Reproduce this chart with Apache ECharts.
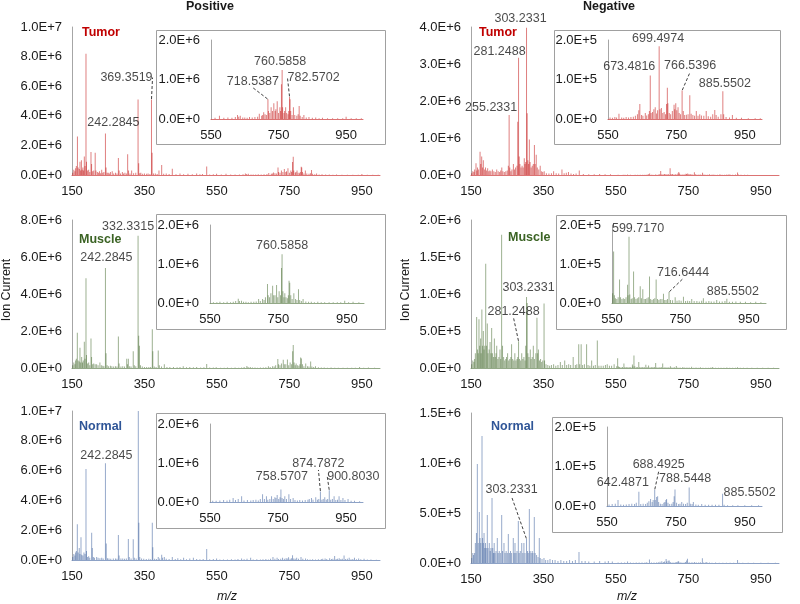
<!DOCTYPE html>
<html>
<head>
<meta charset="utf-8">
<script src="https://cdn.jsdelivr.net/npm/echarts@6/dist/echarts.min.js"></script>
<style>
  html, body { margin: 0; padding: 0; background: #fff; }
  #main { width: 800px; height: 604px; }
</style>
</head>
<body>
<div id="main"></div>
<script>
// peaks: [m/z, intensity]
const posTumor = [
  [152,0.15e6],[155,0.35e6],[158,0.25e6],[160,0.45e6],[162,0.6e6],[165,2.6e6],[167,0.5e6],[170,0.4e6],[172,0.9e6],[174,0.3e6],
  [176,1.0e6],[178,0.35e6],[180,0.5e6],[182,0.3e6],[184,1.25e6],[186,0.6e6],[188.6,8.2e6],[190,0.9e6],[193,0.3e6],[196,0.35e6],
  [199,0.2e6],[202.4,1.55e6],[204,0.75e6],[207,0.25e6],[210,0.3e6],[214,1.5e6],[216,0.3e6],[220,0.2e6],[223,0.15e6],[226,0.25e6],
  [229,0.12e6],[232,0.35e6],[235,0.15e6],[238,0.2e6],[242.2845,2.8e6],[244,0.5e6],[247,0.15e6],[250,0.15e6],[253,0.1e6],[256,0.2e6],
  [261,0.25e6],[265,0.1e6],[270,0.15e6],[274,0.1e6],[278,1.15e6],[280,0.3e6],[284,0.1e6],[289,0.2e6],[292,0.1e6],[296,0.15e6],
  [300,0.1e6],[303.6,1.4e6],[306,0.3e6],[310,0.1e6],[314.6,0.3e6],[320,0.12e6],[326,0.15e6],[332.3,5.1e6],[334,0.8e6],[337,0.12e6],
  [340,0.15e6],[345,0.08e6],[350,0.1e6],[356,0.08e6],[360,0.1e6],[365,0.07e6],[369.3519,5.1e6],[371,1.5e6],[375,0.1e6],[380,0.1e6],
  [385,0.06e6],[390,0.3e6],[397.5,0.68e6],[403,0.08e6],[410,0.1e6],[418,0.06e6],[426.8,0.42e6],[437,0.05e6],[448,0.1e6],[458,0.05e6],
  [470,0.08e6],[482,0.05e6],[494,0.1e6],[503,0.05e6],[510,0.06e6],[521.7,0.58e6],[530,0.04e6],[540,0.05e6],[549,0.08e6],
  [562,0.03e6],[575,0.08e6],[588,0.03e6],[600,0.04e6],[612,0.03e6],[622,0.05e6],[628.5,0.1e6],[632,0.06e6],[636.6,0.08e6],[644,0.04e6],
  [650,0.04e6],[657,0.03e6],[664,0.05e6],[672,0.04e6],[680,0.05e6],[688,0.06e6],[693,0.13e6],[700,0.08e6],[703,0.1e6],[706,0.17e6],
  [710,0.12e6],[714,0.1e6],[718.5387,0.5e6],[720,0.2e6],[724,0.15e6],[728,0.3e6],[732,0.2e6],[736,0.4e6],[740,0.2e6],[742,0.25e6],
  [746,0.45e6],[750,0.15e6],[754,0.3e6],[756,0.2e6],[758.5707,0.88e6],[760.5858,1.24e6],[762,0.3e6],[766,0.15e6],[768,0.2e6],[771,0.3e6],
  [774,0.15e6],[778,0.12e6],[780,0.2e6],[782.5702,0.56e6],[784,0.5e6],[786,0.2e6],[790,0.1e6],[794,0.3e6],[798,0.1e6],[804,0.08e6],
  [808,0.12e6],[811,0.33e6],[814,0.08e6],[820,0.05e6],[825,0.1e6],[832,0.04e6],[840,0.05e6],[850,0.03e6],[860,0.04e6],[870,0.02e6],
  [880,0.03e6],[895,0.02e6],[910,0.02e6],[925,0.02e6],[940,0.02e6],[950,0.06e6],[965,0.02e6],[980,0.02e6],[995,0.02e6]
];
const negTumor = [
  [152,0.05e6],[155,0.1e6],[158,0.08e6],[160,0.15e6],[163.8,0.32e6],[166,0.12e6],[168,0.2e6],[171,0.15e6],[175,0.63e6],[177,0.3e6],
  [179.5,0.5e6],[182,0.2e6],[184,0.4e6],[187,0.15e6],[190,0.2e6],[193,0.12e6],[196,0.18e6],[199,0.1e6],[202,0.12e6],[205,0.1e6],
  [209,0.15e6],[213,0.1e6],[217,0.08e6],[221,0.15e6],[225,0.1e6],[229,0.08e6],[232,0.12e6],[235,0.2e6],[238,0.1e6],[242,0.08e6],
  [246,0.1e6],[250,0.12e6],[253,0.25e6],[255.2331,1.62e6],[257,0.2e6],[260,0.1e6],[263,0.15e6],[267,0.3e6],[270,0.15e6],[273,0.2e6],
  [277,0.25e6],[279,1.44e6],[281.2488,3.17e6],[283,0.5e6],[285,0.3e6],[288,0.2e6],[291,0.25e6],[294,0.2e6],[297,0.45e6],[299,0.3e6],
  [301,0.35e6],[303.2331,3.98e6],[305,1.67e6],[307,0.4e6],[309,0.3e6],[311,0.96e6],[313,0.35e6],[316,0.2e6],[319,0.25e6],[322,0.3e6],
  [325,0.81e6],[327,0.3e6],[330,0.55e6],[333,0.2e6],[337,0.15e6],[341,0.25e6],[345,0.1e6],[348,0.08e6],[352,0.1e6],[358,0.05e6],
  [365,0.04e6],[372,0.05e6],[378,0.1e6],[385,0.05e6],[392,0.04e6],[401,0.15e6],[407,0.05e6],[413,0.06e6],[419,0.08e6],[426,0.04e6],
  [433,0.03e6],[440,0.04e6],[448.8,0.12e6],[460,0.03e6],[475,0.02e6],[490,0.02e6],[505,0.03e6],[520,0.02e6],[535,0.02e6],
  [556,4e3],[563,3e3],[570,5e3],[575,4e3],[582,1.3e4],[590,4e3],[596,3e3],[603,5e3],[610,4e3],[617,5e3],
  [624,6e3],[630,8e3],[636,1.2e4],[640,2.2e4],[643,3.8e4],[648,1e4],[652,8e3],[659,1.5e4],[663,9e3],[668,1.2e4],
  [671,2.0e4],[673.4816,1.1e5],[676,1.5e4],[680,1.8e4],[684,2.5e4],[688,3.0e4],[692,1.4e4],[695,2.2e4],[699.4974,1.84e5],[702,2.5e4],
  [706,2.8e4],[710,1.5e4],[714,1.8e4],[718,1.2e4],[721,3.8e4],[723.4,7.9e4],[725,4.0e4],[729,1.5e4],[733,1.2e4],[738,2e4],
  [743,3.6e4],[745,2.5e4],[748,4.0e4],[751,2.2e4],[754.7,3.0e4],[758,1.5e4],[762,1.2e4],[766.5396,7.2e4],[770,2e4],[774,1e4],
  [779,1.1e4],[784,1.2e4],[789,6.0e4],[793,1.3e4],[798,1e4],[803,8e3],[808,2e4],[813,8e3],[818,1.2e4],[823,9e3],
  [830,8e3],[837,2e4],[843,7e3],[850,6e3],[856,1.2e4],[862,2.3e4],[866,1e4],[872,6e3],[880,1.2e4],[885.5502,7.0e4],
  [888,1.2e4],[895,5e3],[905,4e3],[913.5,1e4],[925,3e3],[940,3e3],[960,2e3],[980,2e3],[995,2e3]
];
const posMuscle = [
  [152,0.15e6],[155,0.3e6],[158,0.2e6],[160,0.4e6],[162,0.5e6],[164.7,1.9e6],[167,0.4e6],[170,0.35e6],[172,1.1e6],[174,0.3e6],
  [176.7,0.6e6],[179,0.3e6],[181,0.4e6],[184,1.42e6],[186,0.5e6],[188.6,4.85e6],[190,0.7e6],[193,0.25e6],[196,0.3e6],[199,0.15e6],
  [202.4,1.6e6],[204,0.6e6],[207,0.2e6],[210,0.25e6],[214,0.2e6],[218,0.2e6],[222,0.15e6],[227,0.3e6],[231,0.15e6],[235,0.12e6],
  [238,0.1e6],[242.2845,5.4e6],[244,0.8e6],[247,0.15e6],[251,0.1e6],[256,0.12e6],[260,0.1e6],[265,0.08e6],[270,0.1e6],[274,0.08e6],
  [278,1.7e6],[280,0.25e6],[285,0.08e6],[290,0.1e6],[295,0.08e6],[301,0.5e6],[303,0.2e6],[305.5,0.5e6],[309,0.1e6],[313,0.08e6],
  [319,0.9e6],[322,0.15e6],[326,0.1e6],[332.3315,7.15e6],[334,1.75e6],[336,1.2e6],[339,0.15e6],[344,0.08e6],[350,0.06e6],[356,0.05e6],
  [362,0.06e6],[367,0.05e6],[371.6,2.1e6],[373,0.9e6],[377,0.08e6],[382,0.06e6],[388,0.95e6],[391,0.15e6],[397,0.08e6],[404.8,0.2e6],
  [412,0.05e6],[420,0.06e6],[430,0.05e6],[440,0.04e6],[448,0.05e6],[457,0.1e6],[466,0.04e6],[475,0.05e6],[485,0.04e6],[494,0.06e6],
  [505,0.03e6],[514,0.04e6],[521.7,0.22e6],[530,0.03e6],[540,0.03e6],[548,0.04e6],
  [560,0.02e6],[570,0.02e6],[579,0.03e6],[590,0.02e6],[600,0.03e6],[610,0.02e6],[618,0.03e6],[625,0.05e6],[632.6,0.11e6],[636,0.05e6],
  [642,0.06e6],[648,0.03e6],[655,0.03e6],[662,0.02e6],[670,0.03e6],[678,0.03e6],[685,0.04e6],[692,0.1e6],[697,0.05e6],[703.6,0.1e6],
  [708,0.08e6],[712,0.15e6],[718,0.49e6],[720,0.2e6],[724,0.15e6],[728,0.25e6],[733,0.44e6],[736,0.2e6],[740,0.2e6],[744.5,0.46e6],
  [748,0.15e6],[752,0.3e6],[756,0.2e6],[759,0.9e6],[760.5858,1.25e6],[763,0.3e6],[766,0.15e6],[768.6,0.25e6],[772,0.15e6],[776,0.12e6],
  [779,0.2e6],[781,0.57e6],[783,0.52e6],[786,0.2e6],[790,0.1e6],[795,0.25e6],[800,0.1e6],[804,0.08e6],[808.6,0.35e6],[812,0.08e6],
  [817,0.05e6],[822,0.1e6],[830,0.04e6],[838,0.03e6],[846,0.03e6],[855,0.02e6],[865,0.03e6],[875,0.02e6],[885,0.02e6],[898,0.02e6],
  [910,0.02e6],[922,0.02e6],[932,0.02e6],[943.6,0.06e6],[955,0.02e6],[968,0.03e6],[985,0.02e6]
];
const negMuscle = [
  [152,0.05e6],[155,0.1e6],[158,0.08e6],[160,0.12e6],[162,0.2e6],[165.6,0.69e6],[168,0.25e6],[170,0.2e6],[172,0.66e6],[174,0.3e6],
  [176.5,0.4e6],[178,0.2e6],[180,0.79e6],[182,0.3e6],[184,0.5e6],[186,0.25e6],[188,0.3e6],[190.6,1.41e6],[193,0.3e6],[195,0.6e6],
  [197,0.2e6],[200,0.25e6],[202.6,0.35e6],[205,0.2e6],[207,0.54e6],[209,0.2e6],[212,0.15e6],[214.5,0.4e6],[217,0.15e6],[219,0.2e6],
  [221,0.3e6],[224,0.12e6],[227,0.15e6],[230,0.25e6],[232,0.12e6],[234.5,1.8e6],[237,0.3e6],[240,0.15e6],[243,0.1e6],[246,0.12e6],
  [248,0.15e6],[251,0.2e6],[254,0.1e6],[257,0.12e6],[260,0.15e6],[262,0.32e6],[265,0.12e6],[268,0.1e6],[271,0.2e6],[274,0.1e6],
  [277,0.12e6],[279,0.15e6],[281.2488,0.36e6],[284,0.12e6],[287,0.1e6],[290,0.2e6],[293,0.12e6],[296,0.15e6],[299,0.1e6],[301,0.3e6],
  [303.2331,0.96e6],[305,0.88e6],[307,0.2e6],[310,0.15e6],[313.6,0.25e6],[316,0.12e6],[319,0.15e6],[322,0.3e6],[325,0.12e6],[329,0.2e6],
  [332,0.68e6],[334,0.2e6],[336,0.25e6],[339,0.1e6],[342,0.12e6],[345,0.08e6],[348,0.1e6],[351.6,0.87e6],[353,0.1e6],[357,0.05e6],
  [362,0.04e6],[367,0.03e6],[372,0.04e6],[378,0.05e6],[384,0.03e6],[390,0.04e6],[396.6,0.08e6],[402,0.04e6],[408.6,0.1e6],[414,0.04e6],
  [419.6,0.05e6],[425,0.04e6],[432,0.15e6],[438,0.04e6],[442,0.05e6],[447.3,0.32e6],[450,0.05e6],[454,0.32e6],[458,0.04e6],[463,0.05e6],
  [469,0.32e6],[473,0.04e6],[478,0.03e6],[483,0.1e6],[488,0.03e6],[493,0.04e6],[498.6,0.37e6],[503,0.03e6],[509,0.03e6],[515,0.03e6],
  [521,0.04e6],[526,0.05e6],[532,0.03e6],[538,0.03e6],[545,0.05e6],
  [552,2.5e4],[554.7,1.32e5],[557,2e4],[560,1.2e4],[564,1e4],[568,1.5e4],[572,6e4],[575,1.5e4],[579,1e4],[583,1.2e4],
  [587,1e4],[591,1.5e4],[595.5,4.7e4],[597,2e4],[599.717,1.7e5],[602,2.2e4],[606,1e4],[609,1.2e4],[613,8.1e4],[616,1.5e4],
  [620,1e4],[624,1.2e4],[628,1.5e4],[632.5,4.3e4],[636,1.2e4],[640,3.5e4],[644,1e4],[648,1e4],[652,1.2e4],[656,1.5e4],
  [659.6,6.8e4],[663,1e4],[667,8e3],[671,1e4],[675,1.2e4],[679,6e4],[683,1e4],[687,8e3],[691,1e4],[696,1e4],
  [700.4,2.4e4],[704,8e3],[708,8e3],[712,1e4],[716.6444,2.8e4],[721,8e3],[727,7e3],[734.6,1.5e4],[740,6e3],[746,7e3],
  [752,6e3],[758.8,1.6e4],[765,5e3],[771,6e3],[777,5e3],[783,1e4],[790,5e3],[798,5e3],[805,4e3],[812,6e3],
  [817,1.2e4],[825,4e3],[833,5e3],[840,4e3],[848,4e3],[856,8e3],[864,4e3],[872,4e3],[880,5e3],[885.5502,1.1e4],
  [893,3e3],[902,3e3],[912,4e3],[925,3e3],[940,3e3],[955,2e3],[970,3e3],[985,2e3]
];
const posNormal = [
  [152,0.2e6],[155,0.4e6],[158,0.3e6],[160,0.5e6],[162,0.6e6],[164.7,2.4e6],[167,0.5e6],[170,0.8e6],[172,0.4e6],[174.8,1.52e6],
  [177,0.35e6],[180,0.3e6],[183,0.5e6],[186,0.4e6],[188.6,6.1e6],[190,0.6e6],[193,0.2e6],[196,0.25e6],[199,0.15e6],[204.3,1.83e6],
  [206,0.8e6],[209,0.2e6],[212,0.15e6],[218,0.2e6],[222,0.15e6],[227,0.12e6],[232,0.15e6],[236,0.1e6],[242.2845,6.5e6],[244.5,1.1e6],
  [248,0.12e6],[252,0.1e6],[257,0.08e6],[264,0.1e6],[270,0.1e6],[274,0.08e6],[278,1.68e6],[280,0.3e6],[285,0.1e6],[290,0.1e6],
  [295,0.08e6],[300,0.1e6],[305.5,1.41e6],[308,0.2e6],[313,0.1e6],[319,1.39e6],[322,0.15e6],[327,0.1e6],[333,1.0e7],[334.5,2.5e6],
  [337,0.2e6],[342,0.1e6],[348,0.08e6],[355,0.06e6],[362,0.08e6],[367,0.05e6],[371.6,2.5e6],[373,0.85e6],[378,0.08e6],[383,0.06e6],
  [388,0.2e6],[392,0.1e6],[397.5,0.35e6],[400,0.15e6],[404.8,0.2e6],[410,0.08e6],[418,0.06e6],[426.8,0.2e6],[435,0.06e6],[442,0.12e6],
  [450,0.05e6],[458,0.15e6],[466,0.05e6],[475,0.1e6],[485,0.15e6],[494,0.06e6],[503,0.05e6],[512,0.06e6],[521.7,0.74e6],[530,0.05e6],
  [540,0.06e6],[549,0.1e6],
  [558,0.03e6],[568,0.03e6],[579,0.04e6],[590,0.05e6],[600,0.04e6],[608,0.06e6],[618,0.1e6],[625,0.05e6],[633,0.08e6],[643,0.15e6],
  [650,0.04e6],[660,0.05e6],[670,0.04e6],[677,0.05e6],[685,0.06e6],[692,0.04e6],[698,0.08e6],[704.6,0.2e6],[710,0.08e6],[716,0.15e6],
  [720,0.06e6],[726,0.08e6],[731,0.15e6],[736,0.08e6],[740.8,0.12e6],[744,0.1e6],[747.6,0.18e6],[752,0.08e6],[756,0.12e6],[758.5707,0.32e6],
  [762,0.1e6],[766,0.08e6],[770,0.15e6],[775,0.08e6],[782,0.2e6],[787,0.08e6],[794.5,0.1e6],[800,0.05e6],[807,0.04e6],[814,0.05e6],
  [822,0.04e6],[830,0.05e6],[838,0.06e6],[842,0.08e6],[848.5,0.1e6],[853,0.06e6],[861,0.12e6],[866,0.06e6],[870,0.08e6],[874.7872,0.27e6],
  [879,0.06e6],[883,0.08e6],[887.5,0.12e6],[892,0.06e6],[896,0.08e6],[900.803,0.3e6],[905,0.06e6],[910,0.08e6],[915,0.15e6],[920,0.05e6],
  [925,0.06e6],[929.6,0.15e6],[935,0.05e6],[941,0.1e6],[947,0.05e6],[956,0.08e6],[965,0.03e6],[975,0.03e6],[990,0.02e6]
];
const negNormal = [
  [152,0.05e6],[155,0.1e6],[157,0.08e6],[160,0.1e6],[162,0.2e6],[165,0.3e6],[167.5,0.99e6],[170,0.2e6],[173,0.51e6],[175,0.25e6],
  [177,0.2e6],[180.4,1.27e6],[182,0.25e6],[184,0.2e6],[186,0.3e6],[188,0.15e6],[190,0.2e6],[192,0.15e6],[195,0.48e6],[197,0.15e6],
  [200.5,0.2e6],[203,0.12e6],[205,0.15e6],[208,0.65e6],[210,0.15e6],[212,0.1e6],[214,0.2e6],[216,0.1e6],[219,0.12e6],[222.6,0.25e6],
  [225,0.1e6],[228,0.12e6],[231,0.1e6],[234.7,0.48e6],[237,0.12e6],[241,0.2e6],[244,0.1e6],[247,0.12e6],[250,0.1e6],[253,0.29e6],
  [256,0.1e6],[259,0.12e6],[262,0.1e6],[266.7,0.25e6],[269,0.1e6],[271.4,0.2e6],[274,0.1e6],[277,0.12e6],[280.6,0.42e6],[283,0.1e6],
  [286,0.12e6],[290,0.2e6],[293,0.1e6],[296,0.2e6],[299,0.1e6],[303.2331,0.24e6],[306,0.12e6],[308,0.1e6],[311,0.54e6],[313,0.12e6],
  [316,0.1e6],[319,0.12e6],[321,0.1e6],[324.7,0.46e6],[327,0.1e6],[331,0.08e6],[335,0.06e6],[338.5,0.25e6],[341,0.05e6],[346,0.04e6],
  [351.4,0.05e6],[356,0.03e6],[362,0.03e6],[368,0.04e6],[375,0.03e6],[382,0.03e6],[390,0.02e6],[398,0.03e6],[406,0.02e6],[414,0.02e6],
  [422,0.03e6],[430,0.02e6],[438,0.03e6],[448,0.11e6],[456,0.02e6],[465,0.02e6],[475,0.015e6],[490,0.015e6],[505,0.02e6],[520,0.015e6],
  [529,0.02e6],[540,0.015e6],
  [556,4e3],[565,5e3],[574,6e3],[582,1.5e4],[590,4e3],[598,3e3],[606,4e3],[614,5e3],[622,6e3],[630,5e3],
  [635,8e3],[642.4871,3.6e4],[648,5e3],[655,6e3],[662,5e3],[667,8e3],[671.6,1.2e4],[676.5,1.8e4],[681,1e4],[684,1.5e4],
  [688.4925,4.1e4],[690,1.5e4],[694,2.3e4],[697,2.5e4],[700,1e4],[705,6e3],[710,5e3],[715,8e3],[718,1e4],[721,1.5e4],
  [723,1.8e4],[727,8e3],[732,5e3],[738,6e3],[742,1e4],[745,2.5e4],[747.4,4.2e4],[752,8e3],[758,5e3],[762,6e3],
  [767,1e4],[772,6e3],[778,5e3],[783,8e3],[788.5448,4.7e4],[792,6e3],[797,5e3],[800.7,1e4],[808,4e3],[815,3e3],
  [825,5e3],[835,3e3],[845,3e3],[855,3e3],[865,3e3],[875,3e3],[885.5502,3.1e4],[890,3e3],[900,2e3],[915,2e3],
  [930,2e3],[950,2e3],[970,2e3],[990,2e3]
];

// labelled peaks (m/z), main panel and inset
const posTumorMain = [242.2845, 369.3519];
const posTumorInset = [718.5387, 760.5858, 782.5702];
const negTumorMain = [255.2331, 281.2488, 303.2331];
const negTumorInset = [673.4816, 699.4974, 766.5396, 885.5502];
const posMuscleMain = [242.2845, 332.3315];
const posMuscleInset = [760.5858];
const negMuscleMain = [281.2488, 303.2331];
const negMuscleInset = [599.7170, 716.6444, 885.5502];
const posNormalMain = [242.2845];
const posNormalInset = [758.5707, 874.7872, 900.8030];
const negNormalMain = [303.2331];
const negNormalInset = [642.4871, 688.4925, 788.5448, 885.5502];

const mainTicks = [150, 350, 550, 750, 950];
const insetTicks = [550, 750, 950];

// label nudges in px: [dx, dy, dashed leader]
const nudge = {
  'pt:242.2845': [8, -4, 0], 'pt:369.3519': [-25, -15, 1],
  'pti:718.5387': [-15, -11, 1], 'pti:760.5858': [-2, -1, 0], 'pti:782.5702': [24, -12, 1],
  'nt:255.2331': [-18, -1, 0], 'nt:281.2488': [-19, 1, 0], 'nt:303.2331': [-6, -2, 0],
  'nti:673.4816': [-21, -2, 0], 'nti:699.4974': [-1, -1, 0], 'nti:766.5396': [8, -18, 1], 'nti:885.5502': [2, -1, 0],
  'pm:242.2845': [1, -4, 0], 'pm:332.3315': [-10, -2, 0],
  'pmi:760.5858': [0, -2, 0],
  'nm:281.2488': [-5, -23, 1], 'nm:303.2331': [2, -2, 0],
  'nmi:599.717': [9, -1, 0], 'nmi:716.6444': [14, -13, 1], 'nmi:885.5502': [6, 0, 0],
  'pn:242.2845': [1, -1, 0],
  'pni:758.5707': [1, -6, 0], 'pni:874.7872': [-2, -21, 1], 'pni:900.803': [24, -7, 1],
  'nn:303.2331': [-15, -42, 1],
  'nni:642.4871': [-16, -2, 0], 'nni:688.4925': [4, -18, 1], 'nni:788.5448': [-4, -2, 0], 'nni:885.5502': [27, 6, 0]
};

const RED = '#c00000', GREEN = '#3b6324', BLUE = '#2f5597';
const TXT = '#1a1a1a';
const FONT = '"Liberation Sans", Arial, sans-serif';

const panels = [
  { id: 'pt', spec: posTumor, mainLab: posTumorMain, insetLab: posTumorInset, color: RED, yMax: 1e7, yStep: 2e6, iMax: 2e6, iStep: 1e6,
    main: [72, 27, 308, 148], inset: [211, 40, 152, 79], box: [156, 30, 229, 114] },
  { id: 'nt', spec: negTumor, mainLab: negTumorMain, insetLab: negTumorInset, color: RED, yMax: 4e6, yStep: 1e6, iMax: 2e5, iStep: 1e5,
    main: [471, 27, 308, 148], inset: [608, 40, 154, 79], box: [554, 30, 226, 114] },
  { id: 'pm', spec: posMuscle, mainLab: posMuscleMain, insetLab: posMuscleInset, color: GREEN, yMax: 8e6, yStep: 2e6, iMax: 2e6, iStep: 1e6,
    main: [72, 220, 308, 148], inset: [210, 225, 154, 78], box: [156, 214, 229, 115] },
  { id: 'nm', spec: negMuscle, mainLab: negMuscleMain, insetLab: negMuscleInset, color: GREEN, yMax: 2e6, yStep: 5e5, iMax: 2e5, iStep: 1e5,
    main: [471, 220, 308, 148], inset: [612, 225, 154, 78], box: [556, 215, 230, 114] },
  { id: 'pn', spec: posNormal, mainLab: posNormalMain, insetLab: posNormalInset, color: BLUE, yMax: 1e7, yStep: 2e6, iMax: 2e6, iStep: 1e6,
    main: [72, 411, 308, 149], inset: [210, 424, 153, 78], box: [156, 413, 229, 115] },
  { id: 'nn', spec: negNormal, mainLab: negNormalMain, insetLab: negNormalInset, color: BLUE, yMax: 1.5e6, yStep: 5e5, iMax: 2e5, iStep: 1e5,
    main: [471, 413, 308, 150], inset: [607, 427, 155, 79], box: [552, 417, 230, 115] }
];

function sci(v) {
  if (v === 0) return '0.0E+0';
  const e = Math.floor(Math.log10(v) + 1e-9);
  return (v / Math.pow(10, e)).toFixed(1) + 'E+' + e;
}

const grid = [], xAxis = [], yAxis = [], series = [], graphic = [];

function addPlot(p, rect, isInset) {
  const gi = grid.length;
  grid.push({ left: rect[0], top: rect[1], width: rect[2], height: rect[3], containLabel: false });
  xAxis.push({
    gridIndex: gi, type: 'value', min: isInset ? 550 : 150, max: 1000,
    axisLine: { show: true, lineStyle: { color: p.color, width: 1, opacity: 0.55 } },
    axisTick: { show: false }, splitLine: { show: false },
    axisLabel: { customValues: isInset ? insetTicks : mainTicks, color: TXT, fontSize: 13, fontFamily: FONT, margin: 10 }
  });
  yAxis.push({
    gridIndex: gi, type: 'value', min: 0, max: isInset ? p.iMax : p.yMax, interval: isInset ? p.iStep : p.yStep,
    axisLine: { show: true, lineStyle: { color: '#a6a6a6', width: 1 } },
    axisTick: { show: false }, splitLine: { show: false },
    axisLabel: { formatter: sci, color: TXT, fontSize: 13, fontFamily: FONT, margin: isInset ? 11 : 10 }
  });
  const pts = isInset ? p.spec.filter(d => d[0] >= 550) : p.spec;
  series.push({
    type: 'bar', xAxisIndex: gi, yAxisIndex: gi, barWidth: 1, silent: true, z: 3,
    itemStyle: { color: p.color, opacity: 0.5 },
    data: pts
  });
  const labs = isInset ? p.insetLab : p.mainLab;
  const key = p.id + (isInset ? 'i' : '');
  const places = labs.map(m => nudge[key + ':' + m] || [0, 0, 0]);
  series.push({
    type: 'scatter', xAxisIndex: gi, yAxisIndex: gi, symbolSize: 1, silent: true, z: 5,
    itemStyle: { color: 'rgba(0,0,0,0)' },
    label: { show: true, position: 'top', distance: 0, color: TXT, fontSize: 12.5, fontFamily: FONT,
      formatter: q => q.value[0].toFixed(4) },
    labelLine: { show: false },
    labelLayout: q => ({ dx: places[q.dataIndex][0], dy: places[q.dataIndex][1] }),
    data: labs.map((m, i) => {
      const hit = p.spec.find(d => d[0] === m);
      return {
        value: [m, hit ? hit[1] : 0],
        labelLine: { show: !!places[i][2], lineStyle: { type: [3, 2], color: '#404040', width: 1 } }
      };
    })
  });
}

panels.forEach(p => {
  addPlot(p, p.main, false);
  addPlot(p, p.inset, true);
  graphic.push({ type: 'rect', shape: { x: p.box[0] + 0.5, y: p.box[1] + 0.5, width: p.box[2], height: p.box[3] },
    style: { fill: 'none', stroke: '#a0a0a0', lineWidth: 1 }, z: 1 });
});

const nameTags = [
  ['Tumor', 82, 33, RED], ['Tumor', 479, 33, RED],
  ['Muscle', 79, 240, GREEN], ['Muscle', 508, 238, GREEN],
  ['Normal', 79, 427, BLUE], ['Normal', 491, 427, BLUE]
];
nameTags.forEach(t => graphic.push({ type: 'text', x: t[1], y: t[2],
  style: { text: t[0], fill: t[3], font: 'bold 12.5px ' + FONT, verticalAlign: 'middle' } }));

[['Positive', 210], ['Negative', 609]].forEach(t => graphic.push({ type: 'text', x: t[1], y: 7,
  style: { text: t[0], fill: TXT, font: 'bold 12.5px ' + FONT, align: 'center', verticalAlign: 'middle' } }));

[7, 406].forEach(x => graphic.push({ type: 'text', x: x, y: 290, rotation: Math.PI / 2,
  style: { text: 'Ion Current', fill: TXT, font: '12.5px ' + FONT, align: 'center', verticalAlign: 'middle' } }));

[227, 627].forEach(x => graphic.push({ type: 'text', x: x, y: 597,
  style: { text: 'm/z', fill: TXT, font: 'italic 12.5px ' + FONT, align: 'center', verticalAlign: 'middle' } }));

const chart = echarts.init(document.getElementById('main'));
chart.setOption({
  animation: false,
  backgroundColor: '#fff',
  grid, xAxis, yAxis, series, graphic
});
</script>
</body>
</html>
